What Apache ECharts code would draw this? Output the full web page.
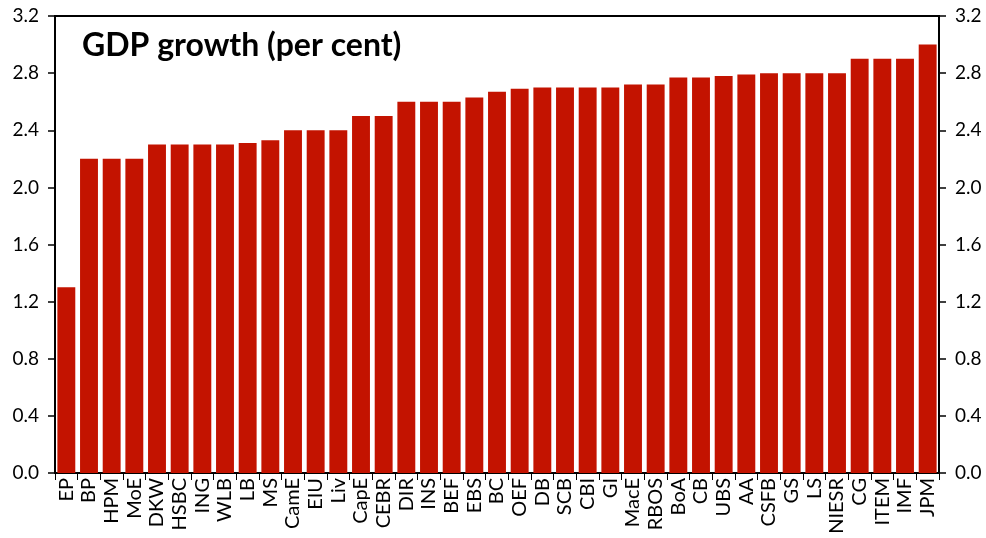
<!DOCTYPE html>
<html>
<head>
<meta charset="utf-8">
<script src="https://cdn.jsdelivr.net/npm/echarts@6/dist/echarts.min.js"></script>
<style>
  html, body { margin: 0; padding: 0; background: #fff; }
  #chart { width: 986px; height: 538px; }
</style>
</head>
<body>
<div id="chart"></div>
<script>
// forecasters, sorted by GDP growth forecast
var categories = ['EP','BP','HPM','MoE','DKW','HSBC','ING','WLB','LB','MS','CamE','EIU','Liv','CapE','CEBR','DIR','INS','BEF','EBS','BC','OEF','DB','SCB','CBI','GI','MacE','RBOS','BoA','CB','UBS','AA','CSFB','GS','LS','NIESR','CG','ITEM','IMF','JPM'];
var growth = [1.3,2.2,2.2,2.2,2.3,2.3,2.3,2.3,2.31,2.33,2.4,2.4,2.4,2.5,2.5,2.6,2.6,2.6,2.63,2.67,2.69,2.7,2.7,2.7,2.7,2.72,2.72,2.77,2.77,2.78,2.79,2.8,2.8,2.8,2.8,2.9,2.9,2.9,3.0];
var yTicks = [0, 0.4, 0.8, 1.2, 1.6, 2.0, 2.4, 2.8, 3.2];

var font = 'Lato, "DejaVu Sans", sans-serif';
var chart = echarts.init(document.getElementById('chart'));

function yAxisDef(pos) {
    return {
        type: 'value',
        position: pos,
        min: yTicks[0],
        max: yTicks[yTicks.length - 1],
        interval: 0.4,
        axisLine: { show: true, lineStyle: { color: '#000', width: 2 } },
        axisTick: { show: true, length: 7, lineStyle: { color: '#000', width: 1.5 } },
        axisLabel: {
            color: '#000', fontFamily: font, fontSize: 19, margin: 16,
            formatter: function (v) { return v.toFixed(1); }
        },
        splitLine: { show: false }
    };
}

chart.setOption({
    animation: false,
    title: {
        text: 'GDP growth (per cent)',
        left: 77, top: 25,
        textStyle: { fontFamily: font, fontWeight: 'bold', fontSize: 32, color: '#000' }
    },
    grid: {
        left: 55, right: 47, top: 16, bottom: 65,
        show: true, borderColor: '#000', borderWidth: 2
    },
    xAxis: {
        type: 'category',
        data: categories,
        axisLine: { show: true, lineStyle: { color: '#000', width: 2 } },
        axisTick: { show: true, length: 7, alignWithLabel: false, lineStyle: { color: '#000', width: 1 } },
        axisLabel: {
            interval: 0, rotate: 90, color: '#000',
            fontFamily: font, fontSize: 20, margin: 5
        }
    },
    yAxis: [yAxisDef('left'), yAxisDef('right')],
    series: [{
        type: 'bar',
        data: growth,
        barCategoryGap: '21%',
        itemStyle: { color: '#C31300' }
    }]
});
</script>
</body>
</html>
